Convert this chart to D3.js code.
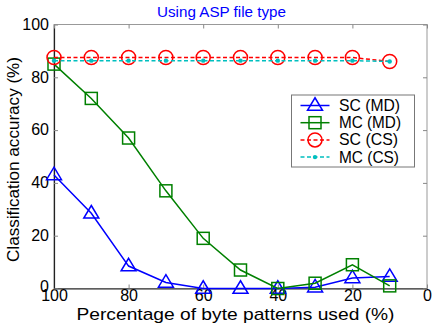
<!DOCTYPE html>
<html><head><meta charset="utf-8">
<script src="https://cdn.jsdelivr.net/npm/d3@7"></script>
<style>body{margin:0;background:#fff}svg{display:block;font-family:"Liberation Sans",Arial,sans-serif}</style>
</head><body><svg id="c" width="432" height="329"></svg>
<script>
const xValues = [100, 90, 80, 70, 60, 50, 40, 30, 20, 10];
const scMD = [43, 28.5, 8.5, 2.3, 0, 0, 0, 0.5, 4, 4.5];
const mcMD = [85, 72, 57, 37, 19, 7, 0, 2, 9, 1];
const scCS = [87.5, 87.5, 87.5, 87.5, 87.5, 87.5, 87.5, 87.5, 87.5, 86];
const mcCS = [86.3, 86.3, 86.3, 86.3, 86.3, 86.3, 86.3, 86.3, 86.3, 86];
const xTicks = [100, 80, 60, 40, 20, 0];
const yTicks = [0, 20, 40, 60, 80, 100];
const seriesNames = ["SC (MD)", "MC (MD)", "SC (CS)", "MC (CS)"];
const titleText = "Using ASP file type";
const xLabel = "Percentage of byte patterns used (%)";
const yLabel = "Classification accuracy (%)";

const L = 54, R = 427, T = 24.5, B = 288.5;
const svg = d3.select("#c");
const x = d3.scaleLinear().domain([100, 0]).range([L, R]);
const y = d3.scaleLinear().domain([0, 100]).range([B, T]);

svg.append("rect").attr("x", L).attr("y", T).attr("width", R - L).attr("height", B - T)
  .attr("fill", "none").attr("stroke", "#999").attr("stroke-width", 1);

const xAxis = svg.append("g").attr("transform", `translate(0,${B})`)
  .call(d3.axisBottom(x).tickValues(xTicks).tickSizeInner(-4).tickSizeOuter(0).tickPadding(3));
const yAxis = svg.append("g").attr("transform", `translate(${L},0)`)
  .call(d3.axisLeft(y).tickValues(yTicks).tickSizeInner(-4).tickSizeOuter(0).tickPadding(5));
svg.append("g").attr("transform", `translate(0,${T})`)
  .call(d3.axisTop(x).tickValues(xTicks).tickSizeInner(-4).tickSizeOuter(0).tickFormat(""))
  .call(g => g.select(".domain").remove());
svg.append("g").attr("transform", `translate(${R},0)`)
  .call(d3.axisRight(y).tickValues(yTicks).tickSizeInner(-4).tickSizeOuter(0).tickFormat(""))
  .call(g => g.select(".domain").remove());
svg.selectAll(".tick line").attr("stroke", "#888");
[xAxis, yAxis].forEach(g => {
  g.select(".domain").attr("stroke", "#222").attr("stroke-width", 1.2);
  g.selectAll("text").attr("font-size", 16).attr("fill", "#000")
    .attr("font-family", '"Liberation Sans",Arial,sans-serif');
});
xAxis.selectAll("text").attr("dy", "0.62em");
yAxis.selectAll("text").attr("dy", d => d === 0 ? "0.18em" : "0.3em");

svg.append("text").attr("x", 221.5).attr("y", 17).attr("text-anchor", "middle")
  .attr("font-size", 14.5).attr("fill", "#0000ff")
  .attr("textLength", 129).attr("lengthAdjust", "spacingAndGlyphs").text(titleText);
svg.append("text").attr("x", 235.5).attr("y", 320).attr("text-anchor", "middle")
  .attr("font-size", 17).attr("fill", "#000")
  .attr("textLength", 318).attr("lengthAdjust", "spacingAndGlyphs").text(xLabel);
svg.append("text").attr("transform", `translate(19,${(T + B) / 2 + 3}) rotate(-90)`)
  .attr("text-anchor", "middle").attr("font-size", 17).attr("fill", "#000")
  .attr("textLength", 205).attr("lengthAdjust", "spacingAndGlyphs").text(yLabel);

const styles = [
  {data: scMD, color: "#0000ff", dash: null, marker: "tri", w: 1.5},
  {data: mcMD, color: "#008000", dash: null, marker: "sq", w: 1.5},
  {data: scCS, color: "#ff0000", dash: "4,2.5", marker: "circ", w: 1.5},
  {data: mcCS, color: "#00bfbf", dash: "4,2.5", marker: "dot", w: 1.5}
];
const line = d3.line().x((d, i) => x(xValues[i])).y(d => y(d));

function drawMarker(g, type, cx, cy, color) {
  if (type === "tri") {
    const s = 15, h = 12.5;
    g.append("path").attr("d", `M${cx},${cy - h * 0.62}L${cx + s / 2},${cy + h * 0.38}L${cx - s / 2},${cy + h * 0.38}Z`)
      .attr("fill", "none").attr("stroke", color).attr("stroke-width", 1.5);
  } else if (type === "sq") {
    g.append("rect").attr("x", cx - 6).attr("y", cy - 6).attr("width", 12).attr("height", 12)
      .attr("fill", "none").attr("stroke", color).attr("stroke-width", 1.5);
  } else if (type === "circ") {
    g.append("circle").attr("cx", cx).attr("cy", cy).attr("r", 7)
      .attr("fill", "none").attr("stroke", color).attr("stroke-width", 1.5);
  } else {
    g.append("circle").attr("cx", cx).attr("cy", cy).attr("r", 2.2).attr("fill", color);
  }
}

styles.forEach(s => {
  const g = svg.append("g");
  g.append("path").attr("d", line(s.data)).attr("fill", "none").attr("stroke", s.color)
    .attr("stroke-width", s.w).attr("stroke-dasharray", s.dash);
  s.data.forEach((v, i) => drawMarker(g, s.marker, x(xValues[i]), y(v), s.color));
});

const lg = svg.append("g");
lg.append("rect").attr("x", 291.5).attr("y", 95).attr("width", 123).attr("height", 72)
  .attr("fill", "#fff").attr("stroke", "#777").attr("stroke-width", 1);
const legendW = [61, 62, 59, 60];
styles.forEach((s, i) => {
  const yy = 105.5 + i * 17.2;
  lg.append("line").attr("x1", 300.5).attr("x2", 329.5).attr("y1", yy).attr("y2", yy)
    .attr("stroke", s.color).attr("stroke-width", s.w).attr("stroke-dasharray", s.dash);
  drawMarker(lg, s.marker, 315, yy, s.color);
  lg.append("text").attr("x", 339).attr("y", yy + 5.5).attr("font-size", 16.5).attr("fill", "#000")
    .attr("textLength", legendW[i]).attr("lengthAdjust", "spacingAndGlyphs").text(seriesNames[i]);
});
</script></body></html>
